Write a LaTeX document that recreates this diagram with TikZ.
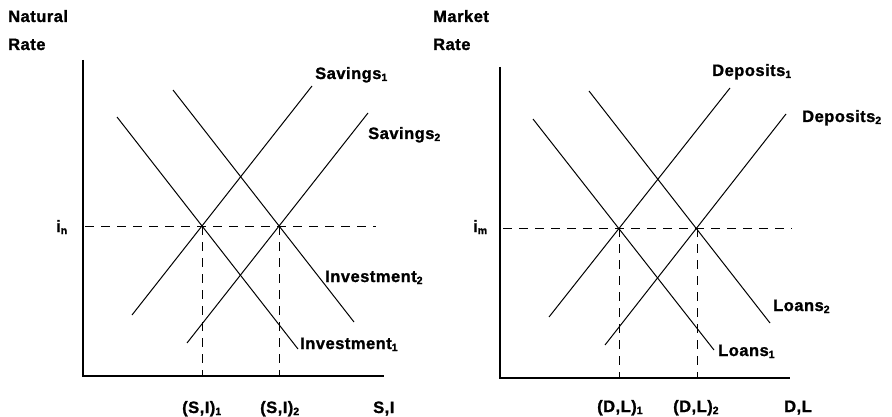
\documentclass[tikz,border=0pt]{standalone}
\usepackage{fontspec}
\setmainfont{Liberation Sans}[LetterSpace=3, BoldFeatures={FakeBold=1.2}]
\newcommand\lsub[1]{\raisebox{-2pt}{\fontsize{10.5}{10.5}\selectfont #1}}
\begin{document}
\begin{tikzpicture}[x=1pt,y=-1pt,
  lbl/.style={font=\fontsize{16.5}{18}\selectfont\bfseries, inner sep=0pt, anchor=base west},
  curve/.style={line width=1pt},
  axis/.style={line width=1.3pt},
  guide/.style={line width=0.9pt, dash pattern=on 9pt off 7pt}]
\useasboundingbox (0,0) rectangle (892,417);
% ---------------- left panel ----------------
\node[lbl] (natural) at (8,22) {Natural};
\node[lbl] (nrate) at (8,50) {Rate};
\coordinate (LYtop) at (83,60);
\coordinate (LO) at (83,376);
\coordinate (LXend) at (384,376);
\draw[axis] (LYtop) -- (LO) -- (LXend);
\coordinate (LE1) at (202,226);
\coordinate (LE2) at (279,226);
\coordinate (LH0) at (85,226);
\coordinate (LH1) at (376,226);
\coordinate (LB1) at (202,376);
\coordinate (LB2) at (279,376);
\draw[guide] (LH0) -- (LH1);
\draw[guide] (LE1) -- (LB1);
\draw[guide] (LE2) -- (LB2);
\coordinate (S1a) at (132,315); \coordinate (S1b) at (312,86);
\coordinate (S2a) at (187,343); \coordinate (S2b) at (368,113);
\coordinate (I1a) at (117,117); \coordinate (I1b) at (298,349);
\coordinate (I2a) at (173,90);  \coordinate (I2b) at (354,322);
\draw[curve] (S1a) -- (S1b);
\draw[curve] (S2a) -- (S2b);
\draw[curve] (I1a) -- (I1b);
\draw[curve] (I2a) -- (I2b);
\node[lbl] (in) at (56,232) {i\lsub{n}};
\node[lbl] (sav1) at (315,79) {Savings\lsub{1}};
\node[lbl] (sav2) at (368,139) {Savings\lsub{2}};
\node[lbl] (inv2) at (325,282) {Investment\lsub{2}};
\node[lbl] (inv1) at (300,349) {Investment\lsub{1}};
\node[lbl] (si1) at (182,413) {(S,I)\lsub{1}};
\node[lbl] (si2) at (260,413) {(S,I)\lsub{2}};
\node[lbl] (si) at (373,413) {S,I};
% ---------------- right panel ----------------
\node[lbl] (market) at (433,22) {Market};
\node[lbl] (mrate) at (433,50) {Rate};
\coordinate (RYtop) at (500,67);
\coordinate (RO) at (500,378);
\coordinate (RXend) at (790,378);
\draw[axis] (RYtop) -- (RO) -- (RXend);
\coordinate (RE1) at (619,228);
\coordinate (RE2) at (697,228);
\coordinate (RH0) at (503,228);
\coordinate (RH1) at (792,228);
\coordinate (RB1) at (619,378);
\coordinate (RB2) at (697,378);
\draw[guide] (RH0) -- (RH1);
\draw[guide] (RE1) -- (RB1);
\draw[guide] (RE2) -- (RB2);
\coordinate (D1a) at (549,317); \coordinate (D1b) at (730,88);
\coordinate (D2a) at (605,345); \coordinate (D2b) at (786,114);
\coordinate (L1a) at (533,119); \coordinate (L1b) at (714,350);
\coordinate (L2a) at (589,91);  \coordinate (L2b) at (770,323);
\draw[curve] (D1a) -- (D1b);
\draw[curve] (D2a) -- (D2b);
\draw[curve] (L1a) -- (L1b);
\draw[curve] (L2a) -- (L2b);
\node[lbl] (im) at (473,232) {i\lsub{m}};
\node[lbl] (dep1) at (712,76) {Deposits\lsub{1}};
\node[lbl] (dep2) at (802,122) {Deposits\lsub{2}};
\node[lbl] (loan2) at (773,311) {Loans\lsub{2}};
\node[lbl] (loan1) at (718,356) {Loans\lsub{1}};
\node[lbl] (dl1) at (597,412) {(D,L)\lsub{1}};
\node[lbl] (dl2) at (673,412) {(D,L)\lsub{2}};
\node[lbl] (dl) at (784,412) {D,L};
\end{tikzpicture}
\end{document}
